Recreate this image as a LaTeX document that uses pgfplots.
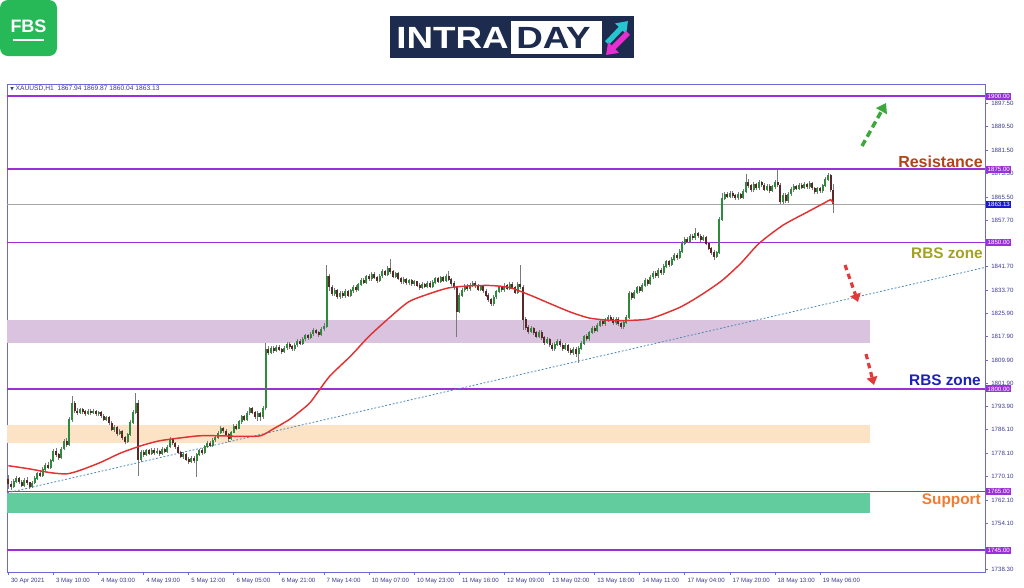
\documentclass[border=0pt]{standalone}
\usepackage{pgfplots}
\pgfplotsset{compat=1.18}
\usepackage{pgfplotstable}
\usepackage{fontspec}
\setmainfont{Liberation Sans}
\newfontfamily\dejavu{DejaVu Sans}
\usetikzlibrary{arrows.meta}

\definecolor{lvl}{HTML}{9B30D9}
\definecolor{axblue}{HTML}{6A6AD8}
\definecolor{ticktxt}{HTML}{3A3A8C}
\definecolor{upc}{HTML}{2E8B3E}
\definecolor{dnc}{HTML}{5A2828}
\definecolor{wick}{HTML}{7A7A7A}
\definecolor{maline}{HTML}{E03232}
\definecolor{trend}{HTML}{4A8AB8}
\definecolor{zpurple}{HTML}{D9C3DE}
\definecolor{zorange}{HTML}{FDE3C5}
\definecolor{zgreen}{HTML}{62CC9E}
\definecolor{lastblue}{HTML}{1A1ACC}
\definecolor{resbrown}{HTML}{B4431A}
\definecolor{rbsolive}{HTML}{A3A21F}
\definecolor{rbsblue}{HTML}{1C22B8}
\definecolor{suporange}{HTML}{F47B2E}
\definecolor{fbsgreen}{HTML}{27B857}
\definecolor{navy}{HTML}{1C2B4E}
\definecolor{icyan}{HTML}{25C6D0}
\definecolor{imag}{HTML}{E62FD0}
\definecolor{arrgreen}{HTML}{3AA83A}
\definecolor{arrred}{HTML}{E03A3A}

% XAUUSD H1 candles: open high low close
\pgfplotstableread{
o h l c
1769.0 1770.5 1765.8 1767.5
1767.5 1768.6 1765.5 1766.8
1766.8 1769.2 1766.2 1768.5
1768.5 1770.3 1767.8 1769.4
1769.4 1770.0 1767.5 1768.2
1768.2 1768.9 1766.4 1767.0
1767.0 1769.5 1766.6 1768.8
1768.8 1769.9 1767.2 1768.0
1768.0 1768.4 1765.9 1766.6
1766.6 1768.5 1766.1 1767.9
1767.9 1770.2 1767.4 1769.5
1769.5 1771.8 1769.0 1771.2
1771.2 1772.0 1769.8 1770.4
1770.4 1773.2 1770.0 1772.6
1772.6 1774.8 1772.1 1774.0
1774.0 1775.2 1772.5 1773.1
1773.1 1776.2 1772.8 1775.5
1775.5 1779.6 1775.0 1778.8
1778.8 1779.9 1776.9 1777.6
1777.6 1778.3 1775.9 1776.5
1776.5 1780.1 1776.0 1779.5
1779.5 1783.0 1779.0 1782.2
1782.2 1783.4 1780.2 1781.0
1781.0 1790.3 1780.6 1789.5
1789.5 1797.6 1788.8 1795.0
1795.0 1795.8 1791.8 1792.5
1792.5 1793.4 1791.2 1792.0
1792.0 1793.6 1791.4 1793.0
1793.0 1793.5 1791.6 1792.2
1792.2 1792.9 1790.9 1791.6
1791.6 1793.2 1791.0 1792.5
1792.5 1793.0 1791.2 1791.8
1791.8 1793.1 1791.3 1792.4
1792.4 1792.9 1790.8 1791.5
1791.5 1792.6 1790.9 1792.0
1792.0 1792.4 1790.1 1790.8
1790.8 1791.3 1789.0 1789.6
1789.6 1790.8 1788.9 1790.2
1790.2 1790.6 1787.8 1788.4
1788.4 1788.9 1785.6 1786.2
1786.2 1787.6 1785.4 1787.0
1787.0 1787.4 1784.1 1784.8
1784.8 1786.5 1784.2 1785.6
1785.6 1786.0 1782.5 1783.4
1783.4 1784.0 1781.2 1782.0
1782.0 1785.1 1781.5 1784.5
1784.5 1789.4 1784.0 1788.6
1788.6 1792.8 1788.0 1792.0
1792.0 1798.6 1791.4 1795.2
1795.2 1796.2 1770.4 1775.8
1775.8 1779.2 1775.2 1778.4
1778.4 1779.0 1776.9 1777.6
1777.6 1779.6 1777.1 1778.9
1778.9 1779.5 1777.4 1778.0
1778.0 1779.8 1777.5 1779.2
1779.2 1779.9 1777.6 1778.3
1778.3 1779.7 1777.8 1778.8
1778.8 1779.3 1777.2 1777.9
1777.9 1780.1 1777.5 1779.4
1779.4 1780.0 1778.0 1778.6
1778.6 1780.9 1778.1 1780.2
1780.2 1783.6 1779.8 1782.8
1782.8 1783.4 1780.9 1781.5
1781.5 1782.0 1779.6 1780.2
1780.2 1780.8 1777.7 1778.3
1778.3 1778.9 1776.4 1777.0
1777.0 1778.4 1776.2 1777.8
1777.8 1778.2 1775.3 1776.0
1776.0 1776.8 1774.5 1775.2
1775.2 1777.0 1774.6 1776.4
1776.4 1777.0 1774.8 1775.5
1775.5 1778.2 1769.8 1777.6
1777.6 1779.6 1777.0 1779.0
1779.0 1779.7 1777.6 1778.2
1778.2 1780.9 1777.8 1780.3
1780.3 1782.1 1779.7 1781.5
1781.5 1782.2 1780.1 1780.8
1780.8 1783.2 1780.3 1782.6
1782.6 1784.3 1782.0 1783.5
1783.5 1785.7 1783.0 1785.0
1785.0 1787.2 1784.5 1786.4
1786.4 1787.0 1785.0 1785.6
1785.6 1786.2 1783.8 1784.4
1784.4 1784.9 1782.0 1783.0
1783.0 1785.8 1782.5 1785.2
1785.2 1788.0 1784.8 1787.4
1787.4 1788.1 1786.0 1786.6
1786.6 1789.5 1786.2 1788.8
1788.8 1791.2 1788.2 1790.5
1790.5 1791.0 1789.0 1789.6
1789.6 1792.5 1789.2 1791.8
1791.8 1794.0 1791.2 1793.3
1793.3 1793.8 1791.3 1792.0
1792.0 1792.4 1789.6 1790.6
1790.6 1792.6 1789.2 1791.8
1791.8 1792.2 1789.0 1790.4
1790.4 1794.2 1789.8 1793.5
1793.5 1815.8 1792.8 1813.5
1813.5 1814.6 1811.6 1812.4
1812.4 1814.5 1811.8 1813.8
1813.8 1814.7 1812.3 1813.0
1813.0 1814.9 1812.5 1814.2
1814.2 1815.0 1812.8 1813.4
1813.4 1814.1 1812.0 1812.8
1812.8 1814.8 1812.2 1814.0
1814.0 1816.0 1813.4 1815.2
1815.2 1816.1 1813.8 1814.4
1814.4 1815.0 1813.0 1813.6
1813.6 1815.7 1813.0 1815.0
1815.0 1816.9 1814.4 1816.2
1816.2 1817.0 1814.9 1815.5
1815.5 1817.8 1815.0 1817.0
1817.0 1818.9 1816.4 1818.2
1818.2 1818.9 1816.8 1817.4
1817.4 1819.5 1816.9 1818.8
1818.8 1820.7 1818.2 1820.0
1820.0 1820.6 1818.6 1819.2
1819.2 1819.8 1817.6 1818.4
1818.4 1821.2 1818.0 1820.5
1820.5 1822.6 1819.8 1821.4
1821.4 1842.4 1820.8 1838.5
1838.5 1839.2 1833.5 1834.8
1834.8 1835.4 1831.8 1832.6
1832.6 1834.6 1831.6 1833.8
1833.8 1834.2 1830.6 1831.5
1831.5 1833.5 1830.8 1832.8
1832.8 1833.6 1831.0 1831.9
1831.9 1834.0 1831.2 1833.2
1833.2 1833.8 1831.4 1832.0
1832.0 1834.2 1831.4 1833.5
1833.5 1835.5 1832.9 1834.8
1834.8 1835.4 1833.2 1833.9
1833.9 1836.3 1833.4 1835.6
1835.6 1837.9 1835.0 1837.2
1837.2 1837.9 1835.8 1836.4
1836.4 1839.0 1835.9 1838.3
1838.3 1839.1 1836.8 1837.5
1837.5 1839.9 1837.0 1839.2
1839.2 1839.8 1837.4 1838.0
1838.0 1838.6 1836.2 1836.9
1836.9 1839.3 1836.4 1838.6
1838.6 1840.8 1838.0 1840.0
1840.0 1840.6 1838.5 1839.1
1839.1 1842.0 1838.6 1841.2
1841.2 1844.2 1839.4 1840.0
1840.0 1840.6 1837.8 1838.5
1838.5 1840.1 1837.9 1839.4
1839.4 1839.9 1837.1 1837.8
1837.8 1838.3 1836.0 1836.6
1836.6 1838.1 1836.0 1837.4
1837.4 1837.9 1835.6 1836.2
1836.2 1837.7 1835.5 1837.0
1837.0 1837.5 1835.2 1835.8
1835.8 1837.3 1835.1 1836.6
1836.6 1837.0 1834.8 1835.4
1835.4 1836.0 1833.9 1834.6
1834.6 1836.4 1834.0 1835.8
1835.8 1836.3 1834.3 1834.9
1834.9 1836.9 1834.4 1836.2
1836.2 1836.7 1834.4 1835.0
1835.0 1837.1 1834.5 1836.4
1836.4 1838.3 1835.8 1837.6
1837.6 1838.2 1836.1 1836.8
1836.8 1838.7 1836.2 1838.0
1838.0 1838.6 1836.5 1837.1
1837.1 1839.2 1836.6 1838.4
1838.4 1840.2 1836.8 1837.4
1837.4 1838.0 1835.3 1836.0
1836.0 1836.7 1833.9 1834.6
1834.6 1835.2 1817.6 1826.5
1826.5 1832.8 1825.8 1832.0
1832.0 1834.5 1831.4 1833.8
1833.8 1835.8 1833.2 1835.0
1835.0 1835.7 1833.6 1834.2
1834.2 1836.2 1833.6 1835.4
1835.4 1836.9 1834.8 1836.2
1836.2 1836.8 1834.6 1835.2
1835.2 1835.8 1833.3 1834.0
1834.0 1835.6 1833.4 1834.9
1834.9 1835.4 1832.7 1833.4
1833.4 1834.0 1831.3 1832.0
1832.0 1832.6 1829.8 1830.6
1830.6 1831.2 1828.2 1829.0
1829.0 1832.0 1828.3 1831.4
1831.4 1833.9 1830.8 1833.2
1833.2 1835.3 1832.6 1834.6
1834.6 1835.2 1833.1 1833.8
1833.8 1836.0 1833.2 1835.2
1835.2 1835.8 1833.8 1834.4
1834.4 1836.5 1833.8 1835.8
1835.8 1836.4 1834.0 1834.6
1834.6 1835.1 1832.3 1833.0
1833.0 1836.4 1832.5 1835.6
1835.6 1842.4 1834.0 1834.8
1834.8 1835.4 1820.2 1823.8
1823.8 1824.4 1820.2 1821.0
1821.0 1821.7 1818.8 1819.6
1819.6 1821.5 1819.0 1820.8
1820.8 1821.3 1818.4 1819.2
1819.2 1819.8 1817.3 1818.0
1818.0 1820.1 1817.5 1819.4
1819.4 1820.0 1816.8 1817.6
1817.6 1818.2 1815.0 1815.8
1815.8 1817.6 1815.2 1816.9
1816.9 1817.4 1814.2 1815.0
1815.0 1815.6 1812.8 1813.6
1813.6 1815.9 1813.0 1815.2
1815.2 1817.2 1814.6 1816.4
1816.4 1817.0 1814.3 1815.0
1815.0 1815.6 1813.0 1813.8
1813.8 1815.6 1813.2 1814.9
1814.9 1815.5 1812.4 1813.2
1813.2 1813.9 1811.5 1812.4
1812.4 1814.3 1811.6 1813.6
1813.6 1814.2 1811.0 1812.2
1812.2 1814.6 1808.8 1813.8
1813.8 1816.3 1813.2 1815.6
1815.6 1818.5 1815.0 1817.8
1817.8 1818.6 1816.3 1817.0
1817.0 1819.9 1816.5 1819.2
1819.2 1821.6 1818.6 1820.8
1820.8 1821.4 1819.2 1820.0
1820.0 1822.4 1819.4 1821.6
1821.6 1823.8 1821.0 1823.0
1823.0 1823.9 1821.5 1822.2
1822.2 1824.3 1821.6 1823.6
1823.6 1825.3 1823.0 1824.6
1824.6 1825.2 1823.1 1823.8
1823.8 1824.4 1821.9 1822.6
1822.6 1824.6 1822.0 1823.9
1823.9 1824.5 1821.6 1822.4
1822.4 1823.0 1820.4 1821.2
1821.2 1823.5 1820.6 1822.8
1822.8 1825.1 1822.2 1824.4
1824.4 1833.6 1823.9 1832.6
1832.6 1833.2 1830.4 1831.2
1831.2 1833.8 1830.6 1833.0
1833.0 1835.3 1832.4 1834.6
1834.6 1835.2 1832.9 1833.6
1833.6 1836.1 1833.0 1835.4
1835.4 1837.8 1834.8 1837.0
1837.0 1837.6 1835.3 1836.0
1836.0 1838.9 1835.5 1838.2
1838.2 1840.4 1837.6 1839.6
1839.6 1840.2 1837.9 1838.6
1838.6 1841.4 1838.0 1840.6
1840.6 1841.2 1838.9 1839.6
1839.6 1842.6 1839.0 1841.8
1841.8 1844.1 1841.2 1843.4
1843.4 1844.0 1841.7 1842.4
1842.4 1845.0 1841.8 1844.2
1844.2 1846.4 1843.6 1845.6
1845.6 1846.3 1844.1 1844.8
1844.8 1847.8 1844.2 1847.0
1847.0 1850.4 1846.4 1849.6
1849.6 1852.0 1849.0 1851.2
1851.2 1851.9 1849.7 1850.4
1850.4 1852.9 1849.8 1852.2
1852.2 1853.0 1850.9 1851.6
1851.6 1855.0 1851.0 1853.0
1853.0 1853.7 1851.5 1852.2
1852.2 1852.8 1850.3 1851.0
1851.0 1852.5 1850.4 1851.8
1851.8 1852.3 1849.0 1849.6
1849.6 1850.2 1847.3 1848.0
1848.0 1848.6 1845.9 1846.6
1846.6 1847.3 1844.0 1845.2
1845.2 1847.2 1844.6 1846.6
1846.6 1858.6 1846.0 1857.8
1857.8 1866.8 1857.2 1865.0
1865.0 1867.4 1864.4 1866.6
1866.6 1867.2 1865.1 1865.8
1865.8 1867.6 1865.2 1866.9
1866.9 1867.5 1865.3 1866.0
1866.0 1866.7 1864.5 1865.2
1865.2 1867.1 1864.6 1866.4
1866.4 1866.9 1864.8 1865.4
1865.4 1868.1 1864.9 1867.4
1867.4 1873.4 1866.9 1870.6
1870.6 1871.6 1868.6 1869.4
1869.4 1870.0 1867.2 1868.0
1868.0 1870.6 1867.4 1869.8
1869.8 1870.4 1867.9 1868.6
1868.6 1871.2 1868.0 1870.4
1870.4 1871.1 1868.9 1869.6
1869.6 1870.2 1867.5 1868.2
1868.2 1869.9 1867.6 1869.2
1869.2 1869.8 1867.0 1867.8
1867.8 1869.7 1867.2 1869.0
1869.0 1871.2 1868.4 1870.4
1870.4 1874.8 1868.9 1869.6
1869.6 1870.2 1863.0 1863.8
1863.8 1867.0 1863.2 1866.2
1866.2 1866.8 1863.4 1864.2
1864.2 1867.4 1863.6 1866.6
1866.6 1868.8 1866.0 1868.0
1868.0 1869.9 1867.4 1869.2
1869.2 1869.8 1867.8 1868.4
1868.4 1870.3 1867.8 1869.6
1869.6 1870.2 1868.1 1868.8
1868.8 1870.5 1868.2 1869.8
1869.8 1870.4 1868.3 1869.0
1869.0 1870.9 1868.4 1870.2
1870.2 1870.7 1867.9 1868.6
1868.6 1869.1 1866.5 1867.2
1867.2 1869.1 1866.6 1868.4
1868.4 1869.0 1866.9 1867.6
1867.6 1870.1 1867.0 1869.4
1869.4 1872.4 1868.8 1871.6
1871.6 1873.8 1870.9 1872.8
1872.8 1873.4 1867.2 1867.9
1867.94 1869.87 1860.04 1863.13
}\candles

\newcommand{\smallfont}{\fontsize{4.6}{5}\selectfont}
\pgfplotsset{candle/.style={only marks, mark=*, mark size=0pt,
  mark options={draw=none, fill=none},
  error bars/y dir=both, error bars/y explicit, error bars/error mark=none}}

\begin{document}
\begin{tikzpicture}
\path[use as bounding box] (0pt,0pt) rectangle (768pt,-440.25pt);

\begin{axis}[
  at={(5.25pt,-63pt)}, anchor=north west,
  scale only axis,
  width=733.5pt, height=366pt,
  xmin=-0.49, xmax=368.15,
  ymin=1737.5, ymax=1904.1,
  clip=false,
  axis line style={axblue, line width=0.7pt},
  tick style={axblue, line width=0.5pt},
  tick align=outside,
  major tick length=2.2pt,
  ytick pos=right, yticklabel pos=right,
  xtick pos=bottom,
  ytick={1738.3,1754.1,1762.1,1770.1,1778.1,1786.1,1793.9,1801.9,1809.9,1817.9,1825.9,1833.7,1841.7,1857.7,1865.5,1873.5,1881.5,1889.5,1897.5},
  yticklabel style={font=\smallfont, text=ticktxt, xshift=-1pt,
    /pgf/number format/.cd, fixed, fixed zerofill, precision=2, 1000 sep={}, assume math mode=true},
  xtick={0,17,...,306},
  xticklabels={30 Apr 2021, 3 May 10:00, 4 May 03:00, 4 May 19:00, 5 May 12:00, 6 May 05:00, 6 May 21:00, 7 May 14:00, 10 May 07:00, 10 May 23:00, 11 May 16:00, 12 May 09:00, 13 May 02:00, 13 May 18:00, 14 May 11:00, 17 May 04:00, 17 May 20:00, 18 May 13:00, 19 May 06:00},
  xticklabel style={font=\smallfont, text=ticktxt, anchor=north west, xshift=-1.5pt, yshift=1pt},
]
% zones
\addplot[fill=zpurple, draw=none, forget plot] coordinates {(-0.49,1815.7) (324.8,1815.7) (324.8,1823.5) (-0.49,1823.5)} -- cycle;
\addplot[fill=zorange, draw=none, forget plot] coordinates {(-0.49,1781.5) (324.8,1781.5) (324.8,1787.7) (-0.49,1787.7)} -- cycle;
\addplot[fill=zgreen, draw=none, forget plot] coordinates {(-0.49,1757.6) (324.8,1757.6) (324.8,1764.5) (-0.49,1764.5)} -- cycle;

% levels
\addplot[gray!70, line width=0.5pt] coordinates {(-0.49,1863.13) (368.15,1863.13)};
\foreach \v in {1900,1875,1850,1800,1765,1745} {
  \edef\temp{\noexpand\addplot[lvl, line width=1.3pt] coordinates {(-0.49,\v) (368.15,\v)};}
  \temp
}

% trend line
\addplot[trend, line width=0.6pt, dash pattern=on 1.4pt off 1.4pt] coordinates {(-0.49,1764.5) (368.15,1841.5)};

% wicks
\addplot[candle, error bars/error bar style={draw=wick, line width=0.5pt}]
  table[x expr=\coordindex, y expr={(\thisrow{h}+\thisrow{l})/2}, y error expr={(\thisrow{h}-\thisrow{l})/2}] {\candles};
% bullish bodies
\addplot[candle, x filter/.expression={\thisrow{c}>=\thisrow{o} ? x : nan},
  error bars/error bar style={draw=upc, line width=1.5pt}]
  table[x expr=\coordindex, y expr={(\thisrow{o}+\thisrow{c})/2}, y error expr={abs(\thisrow{c}-\thisrow{o})/2+0.12}] {\candles};
% bearish bodies
\addplot[candle, x filter/.expression={\thisrow{c}<\thisrow{o} ? x : nan},
  error bars/error bar style={draw=dnc, line width=1.5pt}]
  table[x expr=\coordindex, y expr={(\thisrow{o}+\thisrow{c})/2}, y error expr={abs(\thisrow{c}-\thisrow{o})/2+0.12}] {\candles};

% moving average
\addplot[maline, line width=1.1pt, smooth, tension=0.4] coordinates {
(0,1773.8) (8,1772.7) (16,1771.4) (22,1771.0) (27,1772.2) (35,1775.0) (42,1778.0)
(50,1780.6) (57,1782.3) (65,1783.3) (72,1784.0) (80,1784.0) (87,1783.8) (95,1784.0)
(100,1786.4) (106,1789.6) (110,1792.4) (114,1795.6) (121,1804.2) (129,1811.2)
(136,1818.0) (144,1824.6) (151,1829.8) (159,1832.6) (166,1834.5) (174,1835.2)
(182,1835.3) (189,1834.6) (197,1831.9) (204,1829.2) (212,1826.2) (219,1824.2)
(227,1823.4) (234,1823.4) (242,1824.0) (253,1827.8) (261,1832.0) (269,1837.0)
(276,1842.8) (283,1849.7) (292,1855.9) (301,1860.3) (308,1863.7) (310,1864.6) (311,1863.3)};

\coordinate (L1900) at (axis cs:368.15,1900);
\coordinate (L1875) at (axis cs:368.15,1875);
\coordinate (L1863) at (axis cs:368.15,1863.13);
\coordinate (L1850) at (axis cs:368.15,1850);
\coordinate (L1800) at (axis cs:368.15,1800);
\coordinate (L1765) at (axis cs:368.15,1765);
\coordinate (L1745) at (axis cs:368.15,1745);
\end{axis}

% price boxes on the scale
\foreach \c/\t in {L1900/1900.00, L1875/1875.00, L1850/1850.00, L1800/1800.00, L1765/1765.00, L1745/1745.00}
  \node[fill=lvl, text=white, font=\smallfont, inner xsep=1.2pt, inner ysep=1pt, anchor=west] at ([xshift=0.6pt]\c) {\t};
\node[fill=lastblue, text=white, font=\smallfont, inner xsep=1.2pt, inner ysep=1pt, anchor=west] at ([xshift=0.6pt]L1863) {1863.13};

\begin{scope}[x=0.75pt, y=-0.75pt]
% header
\node[anchor=west, text=ticktxt, font=\fontsize{5}{6}\selectfont, inner sep=0pt] at (10,89)
  {{\dejavu\fontsize{3.5}{4}\selectfont ▼}\ XAUUSD,H1\ \ 1867.94 1869.87 1860.04 1863.13};

% annotations
\node[anchor=east, text=resbrown, font=\bfseries\fontsize{12}{14}\selectfont, inner sep=0pt] at (983,162) {Resistance};
\node[anchor=east, text=rbsolive, font=\bfseries\fontsize{11.5}{14}\selectfont, inner sep=0pt] at (983,253) {RBS zone};
\node[anchor=east, text=rbsblue, font=\bfseries\fontsize{11.5}{14}\selectfont, inner sep=0pt] at (981,380) {RBS zone};
\node[anchor=east, text=suporange, font=\bfseries\fontsize{11.5}{14}\selectfont, inner sep=0pt] at (981,501) {Support};

\draw[arrgreen, line width=2.6pt, dash pattern=on 5pt off 3pt, -{Triangle[width=9pt,length=7pt]}] (862,146) -- (886,103);
\draw[arrred, line width=2.4pt, dash pattern=on 4pt off 3pt, -{Triangle[width=8pt,length=6pt]}] (845,265) -- (858,302);
\draw[arrred, line width=2.4pt, dash pattern=on 4pt off 3pt, -{Triangle[width=8pt,length=6pt]}] (866,354) -- (874,385);

% FBS logo
\fill[fbsgreen, rounded corners=6pt] (0,0) rectangle (57,56);
\node[text=white, font=\bfseries\fontsize{13.5}{14}\selectfont] at (28.5,26) {FBS};
\fill[white] (13,38.5) rectangle (44,41);

% INTRADAY banner
\fill[navy] (390,16) rectangle (634,58);
\fill[white] (511,21) rectangle (602,54);
\node[anchor=west, text=white, font=\bfseries\fontsize{23}{24}\selectfont, xscale=1.2, inner sep=0pt] at (396,38) {INTRA};
\node[anchor=west, text=navy, font=\bfseries\fontsize{23}{24}\selectfont, xscale=1.2, inner sep=0pt] at (516,38) {DAY};
\draw[icyan, line width=4pt, -{Triangle[width=11pt,length=8pt]}] (607,43) -- (628,21);
\draw[imag, line width=4pt, -{Triangle[width=11pt,length=8pt]}] (628,33) -- (606,55);
\end{scope}
\end{tikzpicture}
\end{document}
